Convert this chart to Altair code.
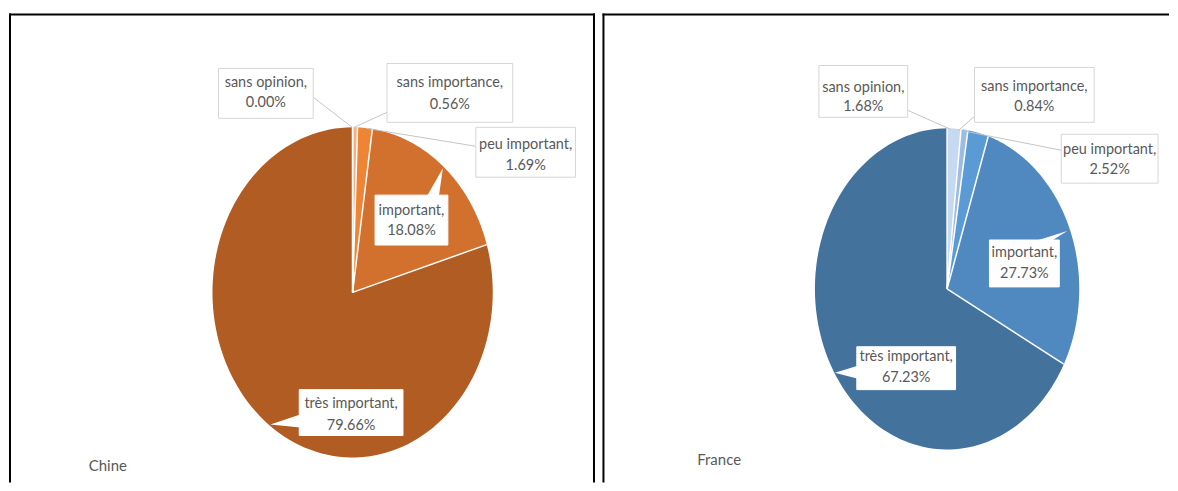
import altair as alt
import pandas as pd

# ---------------- data ----------------
categories = ["sans opinion", "sans importance", "peu important", "important", "très important"]
chine_values = [0.00, 0.56, 1.69, 18.08, 79.66]
france_values = [1.68, 0.84, 2.52, 27.73, 67.23]
panel_names = ["Chine", "France"]

# ---------------- styles ----------------
chine_colors = ["#F8CBAD", "#F4B183", "#EE8435", "#D2702E", "#B05C22"]
france_colors = ["#C5D9F0", "#9DBCE3", "#5B9BD5", "#4F89C0", "#43739C"]
TEXT_COLOR = "#595959"
FONT = "Lato"
FS = 14.5

# ---------------- layout (page pixel positions) ----------------
chine_layout = dict(
    origin=(8, 8), size=(594, 475),
    pie_x=(212, 493), pie_y=(458, 127),
    boxes=[(218, 68, 313, 118, "#d6d6d6"), (387, 63, 513, 122, "#d6d6d6"),
           (476, 127, 576, 177, "#d6d6d6"), (375, 195, 448, 245, "white"),
           (299, 390, 403, 436, "white")],
    texts=[(265.5, 83, 103), (450, 83, 105), (526, 145, 166), (411.5, 211, 231), (351, 404, 426)],
    leaders=[(312, 96, 352, 127), (387, 112, 354, 127), (476, 146, 366, 128)],
    pointers=[[(427, 196), (443, 168), (439, 196)], [(300, 415), (270, 425), (300, 428)]],
    title=(88, 467),
    borders=[(8, 14, 595.5, 14), (9, 13, 9, 483), (594.5, 13, 594.5, 483)],
)
france_layout = dict(
    origin=(602, 8), size=(568, 475),
    pie_x=(815, 1080), pie_y=(450, 128),
    boxes=[(819, 65, 908, 117, "#d6d6d6"), (975, 67, 1095, 122, "#d6d6d6"),
           (1062, 134, 1159, 183, "#d6d6d6"), (990, 240, 1060, 287, "white"),
           (857, 347, 956, 390, "white")],
    texts=[(863.5, 88, 107), (1035, 87, 107), (1110.5, 150, 170), (1025, 253, 274), (906.5, 357, 378)],
    leaders=[(908, 110, 951, 129), (975, 116, 959, 130), (1062, 150, 966, 131)],
    pointers=[[(1036, 241), (1068, 231), (1052, 241)], [(858, 366), (835, 373), (858, 379)]],
    title=(697, 461),
    borders=[(602, 14, 1170, 14), (603, 13, 603, 483)],
)

N = 120


def px(v):
    return alt.X(v, scale=None, axis=None)


def py(v):
    return alt.Y(v, scale=None, axis=None)


def build_panel(values, colors, name, L):
    ox, oy = L["origin"]
    W, H = L["size"]
    df = pd.DataFrame({
        "cat": categories, "value": values,
        "order": list(range(len(categories))), "col": colors,
    })
    xs = alt.Scale(domain=[-1, 1], range=[L["pie_x"][0] - ox, L["pie_x"][1] - ox])
    ys = alt.Scale(domain=[-1, 1], range=[L["pie_y"][0] - oy, L["pie_y"][1] - oy])

    base = (
        alt.Chart(df)
        .transform_joinaggregate(total="sum(value)")
        .transform_window(cum="sum(value)", sort=[alt.SortField("order")], frame=[None, 0])
        .transform_calculate(
            a0="2*PI*(datum.cum - datum.value)/datum.total",
            a1="2*PI*datum.cum/datum.total",
        )
    )
    fills = (
        base.transform_calculate(step=f"sequence(-1, {N + 1})")
        .transform_flatten(["step"])
        .transform_calculate(
            ang=f"datum.a0 + (datum.a1 - datum.a0) * datum.step / {N}",
            ux="datum.step < 0 ? 0 : sin(datum.ang)",
            uy="datum.step < 0 ? 0 : cos(datum.ang)",
        )
        .mark_line(strokeOpacity=0, strokeWidth=0)
        .encode(
            x=alt.X("ux:Q", scale=xs, axis=None),
            y=alt.Y("uy:Q", scale=ys, axis=None),
            fill=alt.Fill("col:N", scale=None),
            detail="cat:N",
            order=alt.Order("step:Q"),
        )
    )
    seps = (
        base.transform_calculate(zx="0", zy="0", ex="sin(datum.a1)", ey="cos(datum.a1)")
        .mark_rule(color="white", strokeWidth=1.5)
        .encode(
            x=alt.X("zx:Q", scale=xs, axis=None),
            y=alt.Y("zy:Q", scale=ys, axis=None),
            x2="ex:Q",
            y2="ey:Q",
        )
    )
    pie = alt.layer(fills, seps)

    # annotations (callouts)
    bdf = pd.DataFrame([
        {"x1": b[0] - ox, "y1": b[1] - oy, "x2": b[2] - ox, "y2": b[3] - oy, "st": b[4]}
        for b in L["boxes"]
    ])
    boxes = alt.Chart(bdf).mark_rect(fill="white", strokeWidth=1).encode(
        x=px("x1:Q"), x2="x2:Q", y=py("y1:Q"), y2="y2:Q",
        stroke=alt.Stroke("st:N", scale=None),
    )
    ldf = pd.DataFrame([
        {"x1": l[0] - ox, "y1": l[1] - oy, "x2": l[2] - ox, "y2": l[3] - oy} for l in L["leaders"]
    ])
    leaders = alt.Chart(ldf).mark_rule(color="#c4c4c4", strokeWidth=1).encode(
        x=px("x1:Q"), x2="x2:Q", y=py("y1:Q"), y2="y2:Q"
    )
    prow = []
    for i, poly in enumerate(L["pointers"]):
        for k, (a, b) in enumerate(poly):
            prow.append({"pid": i, "k": k, "x": a - ox, "y": b - oy})
    pointers = alt.Chart(pd.DataFrame(prow)).mark_line(fill="white", strokeOpacity=0).encode(
        x=px("x:Q"), y=py("y:Q"), detail="pid:N", order="k:Q"
    )
    trow = []
    for cat, val, (tx, t1, t2) in zip(categories, values, L["texts"]):
        trow.append({"x": tx - ox, "y": t1 - oy, "t": f"{cat},"})
        trow.append({"x": tx - ox, "y": t2 - oy, "t": f"{val:.2f}%"})
    texts = alt.Chart(pd.DataFrame(trow)).mark_text(
        font=FONT, fontSize=FS, color=TEXT_COLOR, align="center", baseline="middle"
    ).encode(x=px("x:Q"), y=py("y:Q"), text="t:N")
    title = alt.Chart(pd.DataFrame({"t": [name]})).mark_text(
        font=FONT, fontSize=15, color=TEXT_COLOR, align="left", baseline="middle"
    ).encode(x=alt.value(L["title"][0] - ox), y=alt.value(L["title"][1] - oy), text="t:N")
    rdf = pd.DataFrame([
        {"x1": b[0] - ox, "y1": b[1] - oy, "x2": b[2] - ox, "y2": b[3] - oy} for b in L["borders"]
    ])
    borders = alt.Chart(rdf).mark_rule(color="black", strokeWidth=2).encode(
        x=px("x1:Q"), x2="x2:Q", y=py("y1:Q"), y2="y2:Q"
    )
    annots = alt.layer(leaders, boxes, pointers, texts, title, borders)
    return (
        alt.layer(pie, annots)
        .resolve_scale(x="independent", y="independent")
        .properties(width=W, height=H)
    )


left = build_panel(chine_values, chine_colors, panel_names[0], chine_layout)
right = build_panel(france_values, france_colors, panel_names[1], france_layout)

chart = (
    alt.hconcat(left, right, spacing=0)
    .properties(padding=0, background="white")
    .configure_view(stroke=None)
)

chart.save("out.html", embed_options={"renderer": "svg", "actions": False})
